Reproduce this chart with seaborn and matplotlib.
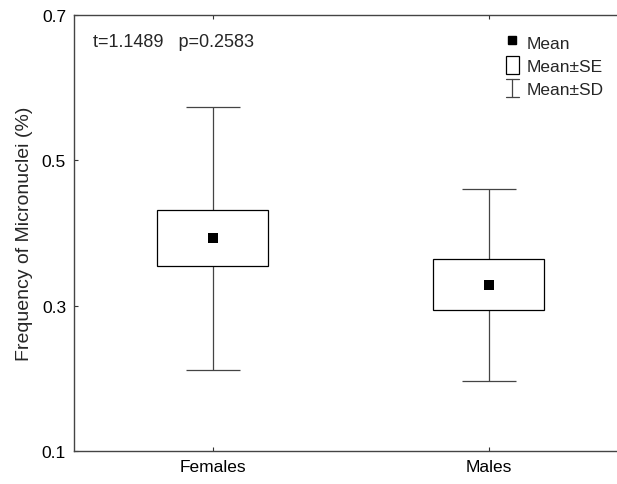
import numpy as np
import pandas as pd
import matplotlib
matplotlib.use("Agg")
import matplotlib.pyplot as plt
from matplotlib.patches import Patch
from matplotlib.lines import Line2D
from matplotlib.legend_handler import HandlerBase
import seaborn as sns

# values
groups = ["Females", "Males"]
means = [0.393, 0.329]
se = [0.038, 0.035]
sd = [0.181, 0.132]
y_ticks = [0.1, 0.3, 0.5, 0.7]
stat_text = "t=1.1489   p=0.2583"


class HandlerIBeam(HandlerBase):
    """Small whisker symbol for the legend (vertical line with caps)."""

    def create_artists(self, legend, orig_handle, xdescent, ydescent,
                       width, height, fontsize, trans):
        x0, x1 = -xdescent, width - xdescent
        cx = (x0 + x1) / 2
        y0, y1 = -ydescent, height - ydescent
        kw = dict(color="#444444", lw=0.9, transform=trans)
        return [
            Line2D([cx, cx], [y0, y1], **kw),
            Line2D([x0, x1], [y0, y0], **kw),
            Line2D([x0, x1], [y1, y1], **kw),
        ]


sns.set_theme(style="white")
plt.rcParams["font.family"] = ["Liberation Sans", "DejaVu Sans"]

df = pd.DataFrame({"group": groups, "mean": means, "se": se, "sd": sd})

fig = plt.figure(figsize=(6.17, 4.85), dpi=100)
ax = fig.add_axes([74.4 / 617, 33 / 485, 552.4 / 617, 436 / 485])

# SD whiskers
ax.errorbar(df["group"], df["mean"], yerr=df["sd"], fmt="none",
            ecolor="#444444", elinewidth=0.9, capsize=19.5, capthick=0.9,
            zorder=1)

# SE boxes
ax.bar(df["group"], 2 * df["se"], bottom=df["mean"] - df["se"], width=0.4,
       color="white", edgecolor="black", linewidth=0.9, zorder=2)

# means
sns.scatterplot(data=df, x="group", y="mean", marker="s", color="black",
                s=42, edgecolor="black", linewidth=0, zorder=3, ax=ax,
                legend=False)

ax.set_xlim(-0.5, 1.5)
ax.set_ylim(0.1, 0.7)
ax.set_yticks(y_ticks)
ax.set_yticklabels([f"{v:.1f}" for v in y_ticks])
ax.set_xlabel("")
ax.set_ylabel("Frequency of Micronuclei (%)", fontsize=14, labelpad=6)
ax.tick_params(direction="in", length=3, width=0.8, colors="#333333",
               labelcolor="black", labelsize=12.5, top=True, right=True,
               bottom=True, left=True, pad=6)
for s in ax.spines.values():
    s.set_color("#444444")
    s.set_linewidth(1.0)

ax.text(0.033, 0.94, stat_text, transform=ax.transAxes, fontsize=13,
        va="center", ha="left")

sd_handle = object()
handles = [
    Line2D([], [], marker="s", ls="none", color="black", markersize=6),
    Patch(facecolor="white", edgecolor="black", linewidth=0.9),
    sd_handle,
]
ax.legend(handles, ["Mean", "Mean±SE", "Mean±SD"], loc="upper left",
          bbox_to_anchor=(0.762, 0.983), frameon=False, fontsize=12.5,
          handlelength=0.75, handleheight=1.2, handletextpad=0.45,
          labelspacing=0.3, borderaxespad=0.2,
          handler_map={sd_handle: HandlerIBeam()})

fig.savefig("out.png", dpi=100)
